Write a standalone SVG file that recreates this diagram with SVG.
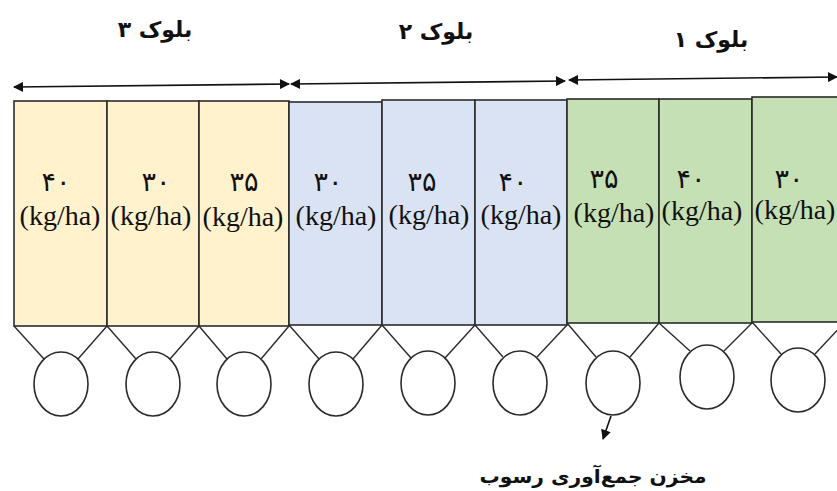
<svg xmlns="http://www.w3.org/2000/svg" width="837" height="491" viewBox="0 0 837 491">
  <style>
    .cell { stroke: #2b2b2b; stroke-width: 1.6; }
    .b3 { fill: #FFF2CC; }
    .b2 { fill: #DAE3F3; }
    .b1 { fill: #C5E0B4; }
    .pit { fill: #ffffff; stroke: #2b2b2b; stroke-width: 1.6; }
    .leg { stroke: #2b2b2b; stroke-width: 1.4; fill: none; }
    .dim { stroke: #111; stroke-width: 1.6; fill: none; }
    .fa { font-family: "DejaVu Sans", sans-serif; font-weight: bold; fill: #111; }
    .num { font-family: "DejaVu Sans", sans-serif; font-size: 27px; fill: #111; text-anchor: middle; }
    .unit { font-family: "Liberation Serif", serif; font-size: 28px; fill: #111; text-anchor: middle; }
  </style>
  <defs>
    <marker id="head" viewBox="0 0 10 10" refX="9" refY="5" markerWidth="11" markerHeight="10" markerUnits="userSpaceOnUse" orient="auto-start-reverse">
      <path d="M0,0 L10,5 L0,10 z" fill="#111"/>
    </marker>
  </defs>

  <!-- block span arrows and tank pointer -->
  <g id="connectors">
    <line class="dim" x1="14" y1="87" x2="289" y2="84" marker-start="url(#head)" marker-end="url(#head)"/>
    <line class="dim" x1="291" y1="84" x2="565" y2="81" marker-start="url(#head)" marker-end="url(#head)"/>
    <line class="dim" x1="569" y1="80" x2="837" y2="77" marker-start="url(#head)" marker-end="url(#head)"/>
    <line class="dim" x1="611" y1="416" x2="603" y2="439" marker-end="url(#head)"/>
  </g>

  <!-- block titles -->
  <g id="title-block3"><text class="fa" x="155" y="37" font-size="22" text-anchor="middle">بلوک ۳</text></g>
  <g id="title-block2"><text class="fa" x="436" y="39" font-size="22" text-anchor="middle">بلوک ۲</text></g>
  <g id="title-block1"><text class="fa" x="711" y="47" font-size="22" text-anchor="middle">بلوک ۱</text></g>

  <!-- block 3 plots -->
  <g id="plot-1">
    <rect class="cell b3" x="14" y="101" width="93" height="225"/>
    <text class="num" x="56" y="191">۴۰</text>
    <text class="unit" x="60" y="225">(kg/ha)</text>
    <path class="leg" d="M14,326 L44,359 M107,326 L78,359"/>
    <ellipse class="pit" cx="61" cy="384" rx="27" ry="32"/>
  </g>
  <g id="plot-2">
    <rect class="cell b3" x="107" y="101" width="92" height="225"/>
    <text class="num" x="156" y="191">۳۰</text>
    <text class="unit" x="151" y="225">(kg/ha)</text>
    <path class="leg" d="M107,326 L136,359 M199,326 L170,359"/>
    <ellipse class="pit" cx="153" cy="384" rx="27" ry="32"/>
  </g>
  <g id="plot-3">
    <rect class="cell b3" x="199" y="101" width="90" height="225"/>
    <text class="num" x="244" y="191">۳۵</text>
    <text class="unit" x="243" y="226">(kg/ha)</text>
    <path class="leg" d="M199,326 L227,359 M289,326 L261,359"/>
    <ellipse class="pit" cx="244" cy="384" rx="27" ry="32"/>
  </g>

  <!-- block 2 plots -->
  <g id="plot-4">
    <rect class="cell b2" x="289" y="102" width="93" height="223"/>
    <text class="num" x="328" y="191">۳۰</text>
    <text class="unit" x="336" y="225">(kg/ha)</text>
    <path class="leg" d="M289,325 L319,359 M382,325 L353,359"/>
    <ellipse class="pit" cx="336" cy="384" rx="27" ry="32"/>
  </g>
  <g id="plot-5">
    <rect class="cell b2" x="382" y="100" width="93" height="225"/>
    <text class="num" x="422" y="191">۳۵</text>
    <text class="unit" x="429" y="224">(kg/ha)</text>
    <path class="leg" d="M382,325 L411,358 M475,325 L445,358"/>
    <ellipse class="pit" cx="428" cy="383" rx="27" ry="32"/>
  </g>
  <g id="plot-6">
    <rect class="cell b2" x="475" y="100" width="92" height="225"/>
    <text class="num" x="513" y="191">۴۰</text>
    <text class="unit" x="521" y="224">(kg/ha)</text>
    <path class="leg" d="M475,325 L503,357 M567,325 L537,357"/>
    <ellipse class="pit" cx="520" cy="383" rx="27" ry="32"/>
  </g>

  <!-- block 1 plots -->
  <g id="plot-7">
    <rect class="cell b1" x="567" y="99" width="92" height="224"/>
    <text class="num" x="604" y="188">۳۵</text>
    <text class="unit" x="614" y="222">(kg/ha)</text>
    <path class="leg" d="M567,323 L596,357 M659,323 L630,357"/>
    <ellipse class="pit" cx="613" cy="383" rx="27" ry="32"/>
  </g>
  <g id="plot-8">
    <rect class="cell b1" x="659" y="99" width="93" height="224"/>
    <text class="num" x="691" y="188">۴۰</text>
    <text class="unit" x="702" y="220">(kg/ha)</text>
    <path class="leg" d="M659,323 L690,351 M752,323 L724,351"/>
    <ellipse class="pit" cx="707" cy="377" rx="27" ry="32"/>
  </g>
  <g id="plot-9">
    <rect class="cell b1" x="752" y="97" width="100" height="225"/>
    <text class="num" x="789" y="188">۳۰</text>
    <text class="unit" x="795" y="219">(kg/ha)</text>
    <path class="leg" d="M752,322 L781,354 M845,322 L815,354"/>
    <ellipse class="pit" cx="798" cy="380" rx="27" ry="32"/>
  </g>

  <!-- sediment tank label -->
  <g id="tank-label">
    <text class="fa" x="593" y="483" font-size="19" text-anchor="middle" textLength="227" lengthAdjust="spacingAndGlyphs">مخزن جمع‌آوری رسوب</text>
  </g>
</svg>
